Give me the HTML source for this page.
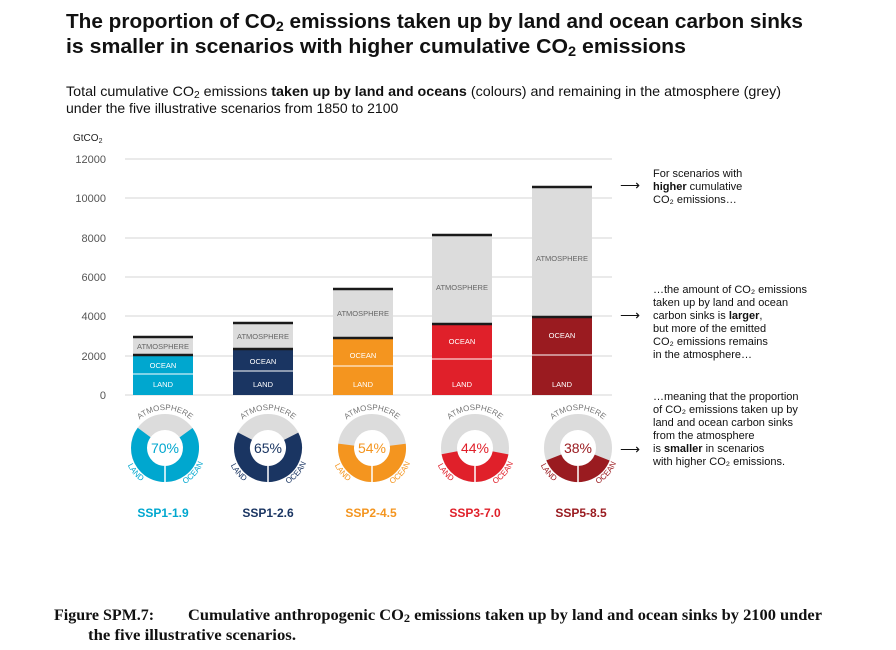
<!DOCTYPE html>
<html><head><meta charset="utf-8"><style>
body{margin:0;background:#fff;}
svg{display:block;font-family:"Liberation Sans",sans-serif;}
</style></head><body>
<svg width="896" height="650" viewBox="0 0 896 650">
<text x="66" y="28" font-size="20.5" font-weight="bold" fill="#111" textLength="737" lengthAdjust="spacingAndGlyphs">The proportion of CO<tspan font-size="14" dy="3">2</tspan><tspan dy="-3"> emissions taken up by land and ocean carbon sinks</tspan></text>
<text x="66" y="53" font-size="20.5" font-weight="bold" fill="#111" textLength="620" lengthAdjust="spacingAndGlyphs">is smaller in scenarios with higher cumulative CO<tspan font-size="14" dy="3">2</tspan><tspan dy="-3"> emissions</tspan></text>
<text x="66" y="96" font-size="14" fill="#111" textLength="715" lengthAdjust="spacingAndGlyphs">Total cumulative CO<tspan font-size="10" dy="2">2</tspan><tspan dy="-2"> emissions </tspan><tspan font-weight="bold">taken up by land and oceans</tspan> (colours) and remaining in the atmosphere (grey)</text>
<text x="66" y="113" font-size="14" fill="#111">under the five illustrative scenarios from 1850 to 2100</text>
<text x="73" y="141" font-size="10" fill="#222">GtCO<tspan font-size="7" dy="2">2</tspan></text>
<g stroke="#d4d4d4" stroke-width="1">
<line x1="125" x2="612" y1="159" y2="159"/><line x1="125" x2="612" y1="198" y2="198"/><line x1="125" x2="612" y1="238" y2="238"/><line x1="125" x2="612" y1="277" y2="277"/><line x1="125" x2="612" y1="316" y2="316"/><line x1="125" x2="612" y1="356" y2="356"/><line x1="125" x2="612" y1="395" y2="395"/>
</g>
<g font-size="11" fill="#555" text-anchor="end">
<text x="106" y="163">12000</text><text x="106" y="202">10000</text><text x="106" y="242">8000</text><text x="106" y="281">6000</text><text x="106" y="320">4000</text><text x="106" y="360">2000</text><text x="106" y="399">0</text>
</g>
<g>
<rect x="133" y="337" width="60" height="18" fill="#dcdcdc"/><rect x="133" y="355" width="60" height="40" fill="#00a7cf"/>
<rect x="233" y="323" width="60" height="26" fill="#dcdcdc"/><rect x="233" y="349" width="60" height="46" fill="#1a3562"/>
<rect x="333" y="289" width="60" height="49" fill="#dcdcdc"/><rect x="333" y="338" width="60" height="57" fill="#f4951f"/>
<rect x="432" y="235" width="60" height="89" fill="#dcdcdc"/><rect x="432" y="324" width="60" height="71" fill="#e0202a"/>
<rect x="532" y="187" width="60" height="130" fill="#dcdcdc"/><rect x="532" y="317" width="60" height="78" fill="#9a1b20"/>
</g>
<g stroke="#fff" stroke-width="1">
<line x1="133" x2="193" y1="374" y2="374"/><line x1="233" x2="293" y1="371" y2="371"/><line x1="333" x2="393" y1="366" y2="366"/><line x1="432" x2="492" y1="359" y2="359"/><line x1="532" x2="592" y1="355" y2="355"/>
</g>
<g stroke="#1a1a1a" stroke-width="2.5">
<line x1="133" x2="193" y1="337" y2="337"/><line x1="133" x2="193" y1="355" y2="355"/>
<line x1="233" x2="293" y1="323" y2="323"/><line x1="233" x2="293" y1="349" y2="349"/>
<line x1="333" x2="393" y1="289" y2="289"/><line x1="333" x2="393" y1="338" y2="338"/>
<line x1="432" x2="492" y1="235" y2="235"/><line x1="432" x2="492" y1="324" y2="324"/>
<line x1="532" x2="592" y1="187" y2="187"/><line x1="532" x2="592" y1="317" y2="317"/>
</g>
<g font-size="7.5" text-anchor="middle">
<g fill="#666"><text x="163" y="349">ATMOSPHERE</text><text x="263" y="339">ATMOSPHERE</text><text x="363" y="316">ATMOSPHERE</text><text x="462" y="290">ATMOSPHERE</text><text x="562" y="261">ATMOSPHERE</text></g>
<g fill="#fff"><text x="163" y="368">OCEAN</text><text x="163" y="387">LAND</text>
<text x="263" y="364">OCEAN</text><text x="263" y="387">LAND</text>
<text x="363" y="358">OCEAN</text><text x="363" y="387">LAND</text>
<text x="462" y="344">OCEAN</text><text x="462" y="387">LAND</text>
<text x="562" y="338">OCEAN</text><text x="562" y="387">LAND</text></g>
</g>
<defs>
<path id="t1" d="M127,448 A38,38 0 0 1 203,448"/><path id="b1" d="M124,448 A41,41 0 0 0 206,448"/>
<path id="t2" d="M230,448 A38,38 0 0 1 306,448"/><path id="b2" d="M227,448 A41,41 0 0 0 309,448"/>
<path id="t3" d="M334,448 A38,38 0 0 1 410,448"/><path id="b3" d="M331,448 A41,41 0 0 0 413,448"/>
<path id="t4" d="M437,448 A38,38 0 0 1 513,448"/><path id="b4" d="M434,448 A41,41 0 0 0 516,448"/>
<path id="t5" d="M540,448 A38,38 0 0 1 616,448"/><path id="b5" d="M537,448 A41,41 0 0 0 619,448"/>
</defs>
<g fill="none" stroke-width="16">
<circle cx="165" cy="448" r="26" stroke="#dcdcdc"/><circle cx="165" cy="448" r="26" stroke="#00a7cf" stroke-dasharray="114.4 200" transform="rotate(-36 165 448)"/>
<circle cx="268" cy="448" r="26" stroke="#dcdcdc"/><circle cx="268" cy="448" r="26" stroke="#1a3562" stroke-dasharray="106.2 200" transform="rotate(-27 268 448)"/>
<circle cx="372" cy="448" r="26" stroke="#dcdcdc"/><circle cx="372" cy="448" r="26" stroke="#f4951f" stroke-dasharray="88.2 200" transform="rotate(-7.2 372 448)"/>
<circle cx="475" cy="448" r="26" stroke="#dcdcdc"/><circle cx="475" cy="448" r="26" stroke="#e0202a" stroke-dasharray="71.9 200" transform="rotate(10.8 475 448)"/>
<circle cx="578" cy="448" r="26" stroke="#dcdcdc"/><circle cx="578" cy="448" r="26" stroke="#9a1b20" stroke-dasharray="62.1 200" transform="rotate(21.6 578 448)"/>
</g>
<g stroke="#fff" stroke-width="1.5">
<line x1="165" x2="165" y1="466" y2="483"/><line x1="268" x2="268" y1="466" y2="483"/><line x1="372" x2="372" y1="466" y2="483"/><line x1="475" x2="475" y1="466" y2="483"/><line x1="578" x2="578" y1="466" y2="483"/>
</g>
<g font-size="14" text-anchor="middle">
<text x="165" y="453" fill="#00a7cf">70%</text><text x="268" y="453" fill="#1a3562">65%</text><text x="372" y="453" fill="#f4951f">54%</text><text x="475" y="453" fill="#e0202a">44%</text><text x="578" y="453" fill="#9a1b20">38%</text>
</g>
<g font-size="8" text-anchor="middle">
<text fill="#777"><textPath href="#t1" startOffset="50%">ATMOSPHERE</textPath></text>
<text fill="#777"><textPath href="#t2" startOffset="50%">ATMOSPHERE</textPath></text>
<text fill="#777"><textPath href="#t3" startOffset="50%">ATMOSPHERE</textPath></text>
<text fill="#777"><textPath href="#t4" startOffset="50%">ATMOSPHERE</textPath></text>
<text fill="#777"><textPath href="#t5" startOffset="50%">ATMOSPHERE</textPath></text>
<text fill="#00a7cf"><textPath href="#b1" startOffset="22%">LAND</textPath></text><text fill="#00a7cf"><textPath href="#b1" startOffset="77%">OCEAN</textPath></text>
<text fill="#1a3562"><textPath href="#b2" startOffset="22%">LAND</textPath></text><text fill="#1a3562"><textPath href="#b2" startOffset="77%">OCEAN</textPath></text>
<text fill="#f4951f"><textPath href="#b3" startOffset="22%">LAND</textPath></text><text fill="#f4951f"><textPath href="#b3" startOffset="77%">OCEAN</textPath></text>
<text fill="#e0202a"><textPath href="#b4" startOffset="22%">LAND</textPath></text><text fill="#e0202a"><textPath href="#b4" startOffset="77%">OCEAN</textPath></text>
<text fill="#9a1b20"><textPath href="#b5" startOffset="22%">LAND</textPath></text><text fill="#9a1b20"><textPath href="#b5" startOffset="77%">OCEAN</textPath></text>
</g>
<g font-size="12" text-anchor="middle" font-weight="bold">
<text x="163" y="517" fill="#00a7cf">SSP1-1.9</text><text x="268" y="517" fill="#1a3562">SSP1-2.6</text><text x="371" y="517" fill="#f4951f">SSP2-4.5</text><text x="475" y="517" fill="#e0202a">SSP3-7.0</text><text x="581" y="517" fill="#9a1b20">SSP5-8.5</text>
</g>
<g font-size="11" fill="#111">
<text x="620" y="190" font-size="14">⟶</text><text x="620" y="320" font-size="14">⟶</text><text x="620" y="454" font-size="14">⟶</text>
<text x="653" y="177">For scenarios with</text>
<text x="653" y="190"><tspan font-weight="bold">higher</tspan> cumulative</text>
<text x="653" y="203">CO₂ emissions…</text>
<text x="653" y="293">…the amount of CO₂ emissions</text>
<text x="653" y="306">taken up by land and ocean</text>
<text x="653" y="319">carbon sinks is <tspan font-weight="bold">larger</tspan>,</text>
<text x="653" y="332">but more of the emitted</text>
<text x="653" y="345">CO₂ emissions remains</text>
<text x="653" y="358">in the atmosphere…</text>
<text x="653" y="400">…meaning that the proportion</text>
<text x="653" y="413">of CO₂ emissions taken up by</text>
<text x="653" y="426">land and ocean carbon sinks</text>
<text x="653" y="439">from the atmosphere</text>
<text x="653" y="452">is <tspan font-weight="bold">smaller</tspan> in scenarios</text>
<text x="653" y="465">with higher CO₂ emissions.</text>
</g>
<g font-family="Liberation Serif,serif" font-size="16" font-weight="bold" fill="#111">
<text x="54" y="620">Figure SPM.7:</text>
<text x="188" y="620" textLength="634" lengthAdjust="spacingAndGlyphs">Cumulative anthropogenic CO<tspan font-size="12" dy="2">2</tspan><tspan dy="-2"> emissions taken up by land and ocean sinks by 2100 under</tspan></text>
<text x="88" y="640" textLength="208" lengthAdjust="spacingAndGlyphs">the five illustrative scenarios.</text>
</g>
</svg>
</body></html>
